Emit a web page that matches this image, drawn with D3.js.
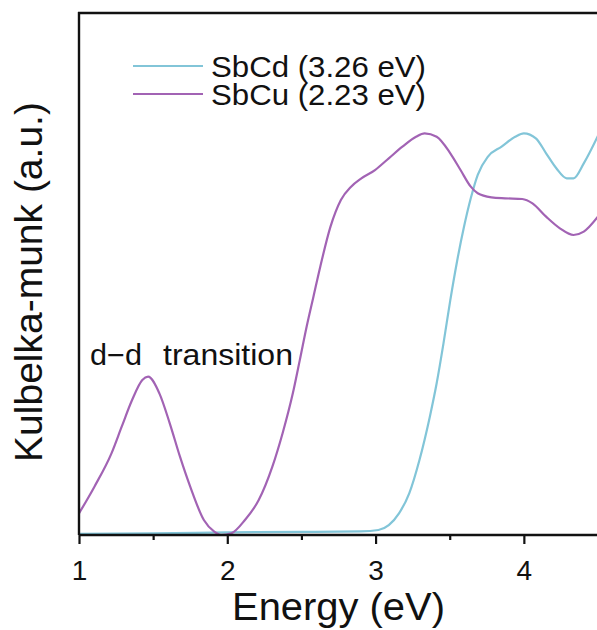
<!DOCTYPE html>
<html>
<head>
<meta charset="utf-8">
<script src="https://cdn.jsdelivr.net/npm/d3@7"></script>
<style>
  html, body { margin: 0; padding: 0; background: #fff; }
  svg { display: block; }
  text { font-family: "Liberation Sans", Arial, sans-serif; fill: #111; }
</style>
</head>
<body>
<svg id="chart" width="597" height="630"></svg>
<script>
// ---- data ----
const seriesNames = ["SbCd (3.26 eV)", "SbCu (2.23 eV)"];
const seriesColors = ["#82c5d8", "#a263b4"];

const sbcdEnergy = [1.0, 1.5, 2.0, 2.5, 2.9, 3.019, 3.089, 3.158, 3.227, 3.296, 3.366, 3.412, 3.458, 3.504, 3.55, 3.596, 3.642, 3.689, 3.758, 3.85, 3.942, 4.0, 4.081, 4.15, 4.219, 4.289, 4.335, 4.404, 4.5];
const sbcdKM =     [0.002, 0.003, 0.005, 0.006, 0.007, 0.0096, 0.019, 0.0415, 0.0798, 0.1437, 0.2267, 0.2906, 0.367, 0.45, 0.525, 0.59, 0.645, 0.69, 0.725, 0.744, 0.763, 0.7695, 0.76, 0.7312, 0.7025, 0.6833, 0.6833, 0.712, 0.765];

const sbcuEnergy = [1.0, 1.104, 1.219, 1.288, 1.358, 1.427, 1.466, 1.542, 1.612, 1.681, 1.75, 1.842, 1.912, 1.958, 2.027, 2.119, 2.212, 2.304, 2.373, 2.442, 2.489, 2.535, 2.581, 2.627, 2.696, 2.766, 2.835, 2.904, 2.996, 3.089, 3.181, 3.273, 3.331, 3.412, 3.504, 3.573, 3.642, 3.689, 3.781, 3.873, 3.989, 4.058, 4.15, 4.243, 4.335, 4.404, 4.5];
const sbcuKM =     [0.0415, 0.0926, 0.1565, 0.2075, 0.2586, 0.297, 0.3033, 0.2714, 0.214, 0.15, 0.0926, 0.0287, 0.0064, 0.0, 0.0032, 0.0287, 0.067, 0.131, 0.195, 0.2714, 0.335, 0.399, 0.4566, 0.514, 0.5907, 0.6418, 0.6673, 0.6833, 0.6992, 0.7216, 0.7439, 0.763, 0.7695, 0.763, 0.7312, 0.6992, 0.6673, 0.6546, 0.6469, 0.645, 0.6437, 0.6354, 0.6098, 0.5875, 0.5747, 0.5811, 0.61];

const xTickValues = [1, 2, 3, 4];
const xMinorTicks = [1.5, 2.5, 3.5];
const xTitle = "Energy (eV)";
const yTitle = "Kulbelka-munk (a.u.)";
const annotationParts = ["d\u2212d", "transition"];

// ---- layout ----
const svg = d3.select("#chart");
const mLeft = 79, mRight = 598, mTop = 13, mBottom = 535;

const x = d3.scaleLinear().domain([1, 4.5]).range([mLeft, mRight]);
const y = d3.scaleLinear().domain([0, 1]).range([mBottom, mTop]);

svg.append("rect").attr("width", 597).attr("height", 630).attr("fill", "#fff");

// curves
const line = d3.line()
  .x(d => x(d[0]))
  .y(d => y(d[1]))
  .curve(d3.curveMonotoneX);

const sbcd = sbcdEnergy.map((e, i) => [e, sbcdKM[i]]);
const sbcu = sbcuEnergy.map((e, i) => [e, sbcuKM[i]]);

svg.append("defs").append("clipPath").attr("id", "clip")
  .append("rect").attr("x", mLeft).attr("y", mTop).attr("width", mRight - mLeft).attr("height", mBottom - mTop + 2);

const g = svg.append("g").attr("clip-path", "url(#clip)");
g.append("path").datum(sbcd).attr("d", line)
  .attr("fill", "none").attr("stroke", seriesColors[0]).attr("stroke-width", 2.2);
g.append("path").datum(sbcu).attr("d", line)
  .attr("fill", "none").attr("stroke", seriesColors[1]).attr("stroke-width", 2.2);

// axes
const xAxis = d3.axisBottom(x).tickValues(xTickValues).tickSize(9).tickPadding(16).tickFormat(d3.format("d"));
const gx = svg.append("g").attr("transform", `translate(0,${mBottom})`).call(xAxis);
gx.select(".domain").remove();
gx.selectAll(".tick line").attr("stroke", "#111").attr("stroke-width", 2.2);
gx.selectAll(".tick text").attr("font-size", 28).attr("fill", "#111")
  .attr("font-family", "Liberation Sans, Arial, sans-serif");

const xMinor = d3.axisBottom(x).tickValues(xMinorTicks).tickSize(5).tickFormat("");
const gxm = svg.append("g").attr("transform", `translate(0,${mBottom})`).call(xMinor);
gxm.select(".domain").remove();
gxm.selectAll(".tick line").attr("stroke", "#111").attr("stroke-width", 2.2);

// frame lines (bottom, left, top)
svg.append("line").attr("x1", mLeft).attr("x2", 597).attr("y1", mBottom).attr("y2", mBottom)
  .attr("stroke", "#111").attr("stroke-width", 2.4);
svg.append("line").attr("x1", mLeft).attr("x2", mLeft).attr("y1", mTop - 1).attr("y2", mBottom)
  .attr("stroke", "#111").attr("stroke-width", 2.4);
svg.append("line").attr("x1", mLeft - 1).attr("x2", 597).attr("y1", mTop).attr("y2", mTop)
  .attr("stroke", "#111").attr("stroke-width", 2.4);

// titles
svg.append("text").attr("x", 232).attr("y", 620)
  .attr("font-size", 38).attr("textLength", 213).attr("lengthAdjust", "spacingAndGlyphs")
  .text(xTitle);
svg.append("text").attr("transform", "translate(42,282) rotate(-90)")
  .attr("text-anchor", "middle").attr("font-size", 39)
  .text(yTitle);

// legend
const legend = svg.append("g");
seriesNames.forEach((name, i) => {
  const ly = 66 + i * 28;
  legend.append("line").attr("x1", 133).attr("x2", 203).attr("y1", ly).attr("y2", ly)
    .attr("stroke", seriesColors[i]).attr("stroke-width", 2.2);
  legend.append("text").attr("x", 211).attr("y", ly + 11)
    .attr("font-size", 29).attr("textLength", 215).attr("lengthAdjust", "spacingAndGlyphs")
    .text(name);
});

// annotation
svg.append("text").attr("x", 90).attr("y", 365)
  .attr("font-size", 29).attr("textLength", 52).attr("lengthAdjust", "spacingAndGlyphs")
  .text(annotationParts[0]);
svg.append("text").attr("x", 163).attr("y", 365)
  .attr("font-size", 29).attr("textLength", 130).attr("lengthAdjust", "spacingAndGlyphs")
  .text(annotationParts[1]);
</script>
</body>
</html>
